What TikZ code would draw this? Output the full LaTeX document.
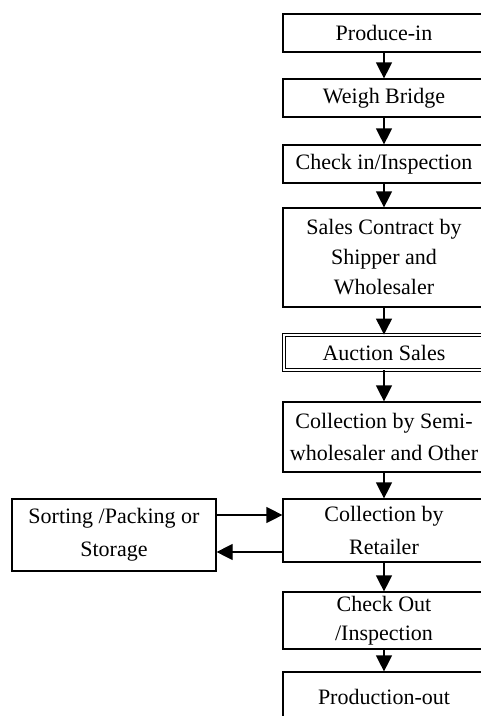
\documentclass[tikz,border=0pt]{standalone}
\usepackage{fontspec}
\setmainfont{Liberation Serif}
\usetikzlibrary{arrows.meta}
\begin{document}
\begin{tikzpicture}[x=1pt,y=-1pt,
  box/.style={draw, line width=1.2pt, rectangle, inner sep=0pt, minimum width=202pt,
    align=center, font=\fontsize{22}{31}\selectfont},
  arr/.style={line width=1.2pt, -{Triangle[width=16pt,length=16pt]}}]
\useasboundingbox (0,0) rectangle (481,716);
\clip (0,0) rectangle (481,716);
\fill[white] (0,0) rectangle (481,716);
% main column of stages
\node[box, minimum height=38pt] (pin) at (384,33) {Produce-in};
\node[box, minimum height=38pt] (wb) at (384,98) {Weigh Bridge};
\node[box, minimum height=38pt] (chk) at (384,164) {Check in/Inspection};
\node[box, minimum height=99pt, font=\fontsize{22}{30}\selectfont] (sc) at (384,257.5) {Sales Contract by\\Shipper and\\Wholesaler};
\node[box, minimum height=35pt, minimum width=200pt, line width=0.9pt, double=white, double distance=1.8pt] (auc) at (384,352.5) {Auction Sales};
\node[box, minimum height=70pt, font=\fontsize{22}{32}\selectfont] (semi) at (384,437) {Collection by Semi-\\wholesaler and Other};
\node[box, minimum height=63pt, font=\fontsize{22}{33}\selectfont] (ret) at (384,530.5) {Collection by\\Retailer};
\node[box, minimum height=57pt, font=\fontsize{22}{29}\selectfont] (cout) at (384,620.5) {Check Out\\/Inspection};
\node[box, minimum height=60pt] (pout) at (384,702) {\raisebox{11pt}{Production-out}};
% side box
\node[box, minimum width=204pt, minimum height=72pt, font=\fontsize{22}{33}\selectfont] (side) at (114,535) {Sorting /Packing or\\Storage};
% flow arrows
\draw[arr] (pin) -- (wb);
\draw[arr] (wb) -- (chk);
\draw[arr] (chk) -- (sc);
\draw[arr] (sc) -- (auc);
\draw[arr] (auc) -- (semi);
\draw[arr] (semi) -- (ret);
\draw[arr] (ret) -- (cout);
\draw[arr] (cout) -- (pout);
\draw[arr] ([yshift=20pt]side.east) -- ([yshift=20pt]side.east -| ret.west);
\draw[arr] ([yshift=-21.5pt]ret.west) -- ([yshift=-21.5pt]ret.west -| side.east);
\end{tikzpicture}
\end{document}
